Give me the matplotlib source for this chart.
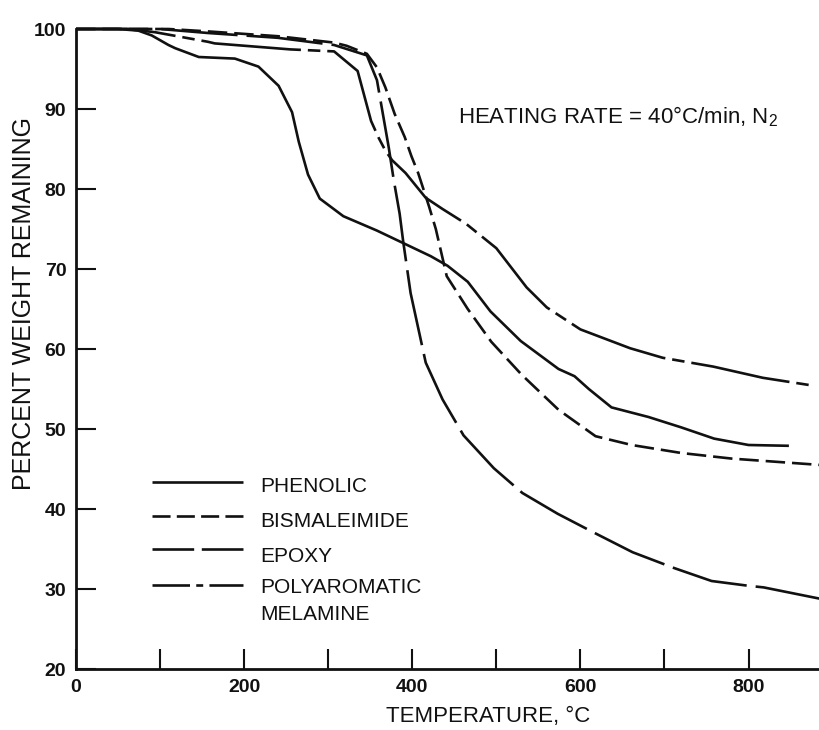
import matplotlib
matplotlib.use("Agg")
from matplotlib import pyplot as plt

plt.rcParams["font.family"] = ["Liberation Sans", "DejaVu Sans"]
plt.rcParams["mathtext.fontset"] = "custom"
plt.rcParams["mathtext.rm"] = "Liberation Sans"
plt.rcParams["lines.scale_dashes"] = False

# TGA curves, temperature (deg C) vs percent weight remaining
phenolic_t = [0, 50, 74, 90, 110, 118, 146, 189, 217, 241, 257, 265, 276, 290, 318,
              358, 398, 422, 442, 466, 493, 529, 574, 593, 610, 637, 681, 720, 759, 800, 848]
phenolic_w = [100, 100, 99.8, 99.2, 98.0, 97.6, 96.5, 96.3, 95.3, 92.9, 89.6, 85.9, 81.8, 78.8, 76.6,
              74.8, 72.8, 71.6, 70.4, 68.4, 64.7, 61.0, 57.5, 56.6, 55.0, 52.7, 51.5, 50.2, 48.8, 48.0, 47.9]

bismaleimide_t = [0, 110, 157, 240, 307, 322, 346, 358, 368, 379, 391, 399, 407, 416, 420, 428,
                  441, 466, 494, 530, 574, 618, 661, 720, 780, 886]
bismaleimide_w = [100, 100, 99.7, 99.1, 98.3, 97.9, 96.9, 95.2, 92.7, 89.4, 86.5, 84.1, 82.0, 79.1, 77.8, 75.0,
                  69.1, 65.0, 60.9, 56.8, 52.4, 49.1, 48.0, 47.0, 46.3, 45.5]

epoxy_t = [0, 100, 157, 240, 307, 346, 358, 365, 372, 378, 385, 389, 398, 416, 436, 461,
           497, 531, 573, 617, 662, 712, 756, 800, 818, 889]
epoxy_w = [100, 100, 99.5, 98.9, 98.0, 96.7, 93.6, 89.4, 85.2, 81.1, 76.9, 73.6, 67.0, 58.3, 53.7, 49.2,
           45.1, 42.0, 39.4, 37.0, 34.6, 32.6, 31.0, 30.4, 30.2, 28.7]

melamine_t = [0, 60, 94, 157, 165, 255, 307, 335, 351, 360, 368, 376, 392, 416, 436, 464,
              500, 536, 560, 600, 659, 698, 758, 817, 872]
melamine_w = [100, 100, 99.6, 98.4, 98.2, 97.45, 97.2, 94.75, 88.5, 86.4, 84.8, 83.6, 82.0, 78.9, 77.5, 75.65,
              72.6, 67.7, 65.2, 62.45, 60.1, 58.9, 57.8, 56.4, 55.5]

series = [
    ("PHENOLIC", phenolic_t, phenolic_w, "-", "-"),
    ("BISMALEIMIDE", bismaleimide_t, bismaleimide_w, (0, (14, 5)), (0, (13, 4.5))),
    ("EPOXY", epoxy_t, epoxy_w, (0, (55, 6.5)), (0, (30, 5.5))),
    ("POLYAROMATIC\nMELAMINE", melamine_t, melamine_w, (0, (72, 5, 9, 5)), (0, (27, 4.5, 5, 4.5))),
]

ink = "#111111"
fig = plt.figure(figsize=(8.2, 7.3), dpi=100)
ax = fig.add_axes([76 / 820, 61 / 730, 744 / 820, 640 / 730])

for name, t, w, ls, _ in series:
    ax.plot(t, w, color=ink, lw=1.9, linestyle=ls, clip_on=False, solid_capstyle="butt")

ax.set_xlim(0, 885)
ax.set_ylim(20, 100)

for side in ["top", "right"]:
    ax.spines[side].set_visible(False)
for side in ["left", "bottom"]:
    ax.spines[side].set_linewidth(2.0)
    ax.spines[side].set_color(ink)

ax.set_xticks(range(0, 900, 100))
ax.set_xticklabels(["0", "", "200", "", "400", "", "600", "", "800"])
ax.set_yticks(range(20, 101, 10))
ax.tick_params(axis="both", direction="in", length=14.4, width=1.5, color=ink,
               labelsize=14, labelcolor=ink, pad=7)
for lbl in ax.get_xticklabels() + ax.get_yticklabels():
    lbl.set_fontweight("bold")

# legend drawn by hand so the handle sits on the first text line
rows = [(0.292, 0.2766), (0.239, 0.222), (0.1875, 0.167), (0.131, 0.119)]
for (name, _, _, _, lls), (ly, ty) in zip(series, rows):
    ax.plot([0.102, 0.2245], [ly, ly], transform=ax.transAxes, color=ink, lw=1.9,
            linestyle=lls, solid_capstyle="butt")
    first = name.split("\n")[0]
    ax.text(0.247, ty, first, transform=ax.transAxes, fontsize=15, color=ink, va="baseline")
ax.text(0.247, 0.0766, "MELAMINE", transform=ax.transAxes, fontsize=15, color=ink, va="baseline")

ax.text(0.513, 0.853, r"HEATING RATE = 40°C/min, N$_\mathregular{2}$", transform=ax.transAxes,
        fontsize=16, color=ink, va="baseline")

fig.text(488 / 820, 8 / 730, "TEMPERATURE, °C", fontsize=16, color=ink, ha="center", va="baseline")
fig.text(24 / 820, 426 / 730, "PERCENT WEIGHT REMAINING", fontsize=18, color=ink,
         rotation=90, ha="center", va="center")

fig.savefig("out.png", dpi=100, facecolor="white")
